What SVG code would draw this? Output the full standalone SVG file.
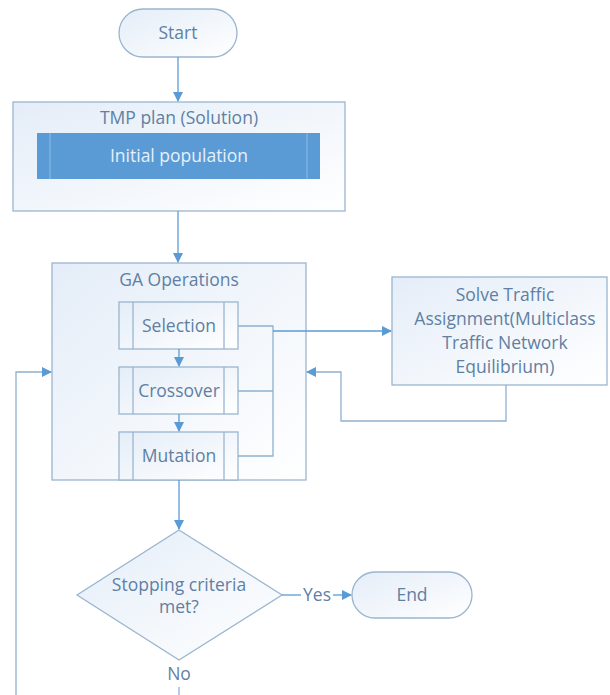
<svg xmlns="http://www.w3.org/2000/svg" width="610" height="695" viewBox="0 0 610 695">
<defs>
<linearGradient id="g" x1="0" y1="0" x2="1" y2="1">
<stop offset="0" stop-color="#e4edf8"/>
<stop offset="1" stop-color="#ffffff"/>
</linearGradient>
<marker id="a" markerWidth="10" markerHeight="10" refX="9" refY="5" orient="auto" markerUnits="userSpaceOnUse">
<path d="M0,0 L10,5 L0,10 Z" fill="#5b9bd5"/>
</marker>
<style>
.box{fill:url(#g);stroke:#9ab5d0;stroke-width:1.3}
.t{font-family:"Open Sans","Noto Sans",sans-serif;font-size:17.5px;fill:#5f7fa3;text-anchor:middle}
.c{fill:none;stroke:#5b9bd5;stroke-width:1.3}
.cg{fill:none;stroke:#8fb0cf;stroke-width:1.3}
.ln{stroke:#9ab5d0;stroke-width:1.3}
</style>
</defs>
<rect width="610" height="695" fill="#ffffff"/>
<g id="start">
<rect class="box" x="119" y="9" width="118" height="48" rx="24"/>
<text class="t" x="178" y="39">Start</text>
</g>
<g id="tmp">
<rect class="box" x="13" y="102" width="332" height="109"/>
<text class="t" x="179" y="124">TMP plan (Solution)</text>
<g id="initial">
<rect x="37" y="133" width="283" height="46" fill="#5b9bd5"/>
<line x1="50" y1="133" x2="50" y2="179" stroke="#8cbbe6" stroke-width="1"/>
<line x1="307" y1="133" x2="307" y2="179" stroke="#8cbbe6" stroke-width="1"/>
<text class="t" x="179" y="162" style="fill:#e6f0fb">Initial population</text>
</g>
</g>
<g id="ga">
<rect class="box" x="52" y="263" width="254" height="217"/>
<text class="t" x="179" y="286">GA Operations</text>
</g>
<g id="selection">
<rect class="box" x="119" y="302" width="119" height="47"/>
<line class="ln" x1="133" y1="302" x2="133" y2="349"/>
<line class="ln" x1="224" y1="302" x2="224" y2="349"/>
<text class="t" x="179" y="332">Selection</text>
</g>
<g id="crossover">
<rect class="box" x="119" y="367" width="119" height="47"/>
<line class="ln" x1="133" y1="367" x2="133" y2="414"/>
<line class="ln" x1="224" y1="367" x2="224" y2="414"/>
<text class="t" x="179" y="397">Crossover</text>
</g>
<g id="mutation">
<rect class="box" x="119" y="432" width="119" height="48"/>
<line class="ln" x1="133" y1="432" x2="133" y2="480"/>
<line class="ln" x1="224" y1="432" x2="224" y2="480"/>
<text class="t" x="179" y="462">Mutation</text>
</g>
<g id="solve">
<rect class="box" x="392" y="277" width="215" height="108"/>
<text class="t" x="505" y="301">Solve Traffic</text>
<text class="t" x="505" y="325">Assignment(Multiclass</text>
<text class="t" x="505" y="349">Traffic Network</text>
<text class="t" x="505" y="373">Equilibrium)</text>
</g>
<g id="decision">
<path class="box" d="M179,530 L282,595 L179,660 L77,595 Z"/>
<text class="t" x="179" y="591">Stopping criteria</text>
<text class="t" x="179" y="613">met?</text>
</g>
<g id="end">
<rect class="box" x="352" y="572" width="120" height="46" rx="23"/>
<text class="t" x="412" y="601">End</text>
</g>
<g id="connectors">
<path class="c" d="M178,57 V101" marker-end="url(#a)"/>
<path class="c" d="M178,211 V262" marker-end="url(#a)"/>
<path class="c" d="M179,349 V366" marker-end="url(#a)"/>
<path class="c" d="M179,414 V431" marker-end="url(#a)"/>
<path class="cg" d="M238,326 H273 V456 H238"/>
<path class="cg" d="M238,391 H273"/>
<path class="c" d="M273,331 H391" marker-end="url(#a)"/>
<path class="cg" d="M506,385 V421 H341 V372 H307" marker-end="url(#a)"/>
<path class="c" d="M179,480 V529" marker-end="url(#a)"/>
<path class="c" d="M282,595 H301"/>
<path class="c" d="M333,595 H351" marker-end="url(#a)"/>
<path class="cg" d="M179,687 V695"/>
<path class="cg" d="M16,695 V372 H51" marker-end="url(#a)"/>
<text class="t" x="317" y="601">Yes</text>
<text class="t" x="179" y="680">No</text>
</g>
</svg>
